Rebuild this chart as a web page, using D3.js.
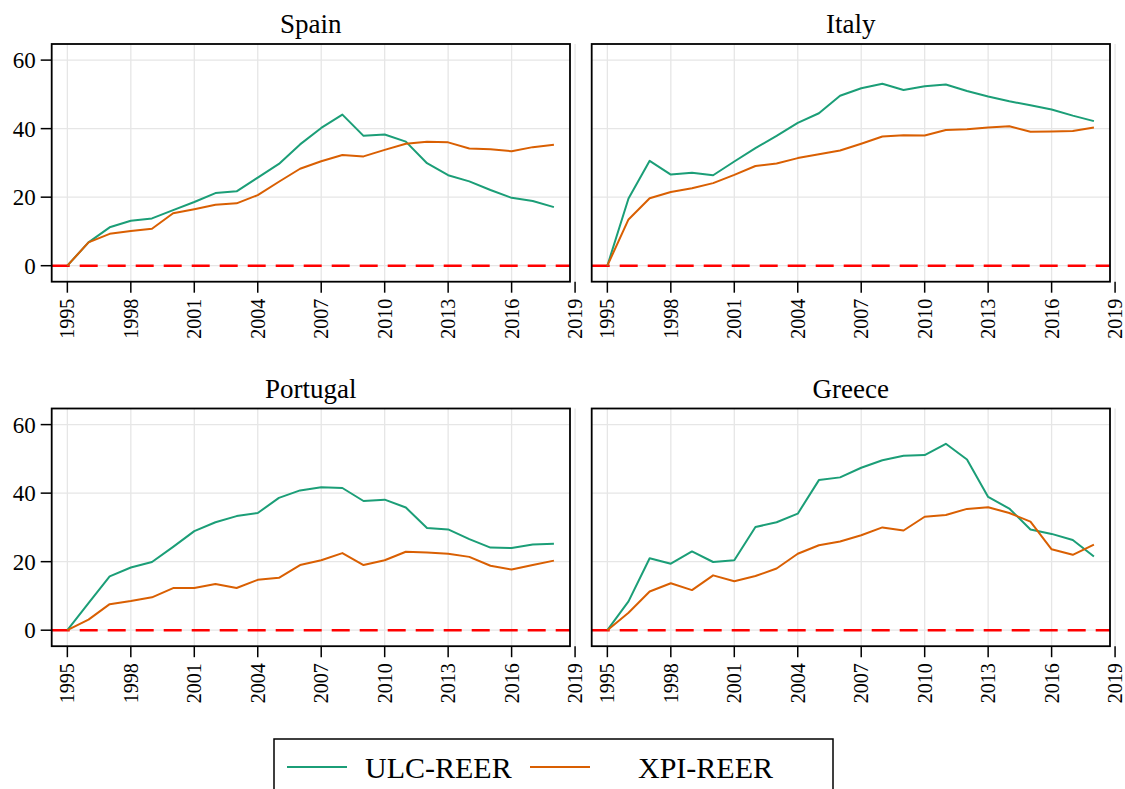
<!DOCTYPE html>
<html>
<head>
<meta charset="utf-8">
<script src="https://cdn.jsdelivr.net/npm/d3@7"></script>
<style>
  html, body { margin: 0; padding: 0; background: #fff; }
  svg { display: block; }
</style>
</head>
<body>
<svg id="chart" width="1125" height="789"></svg>
<script>
const years = d3.range(1995, 2019);
const countries = ["Spain", "Italy", "Portugal", "Greece"];
const xTicks = [1995, 1998, 2001, 2004, 2007, 2010, 2013, 2016, 2019];
const yTicks = [0, 20, 40, 60];
const seriesNames = ["ULC-REER", "XPI-REER"];
const seriesColors = ["#1b9e77", "#d95f02"];

const spainULC = [0, 6.8, 11.2, 13.1, 13.8, 16.2, 18.6, 21.2, 21.7, 25.7, 29.7, 35.4, 40.2, 44.1, 37.9, 38.3, 36.2, 29.9, 26.4, 24.6, 22.1, 19.8, 18.9, 17.1];
const spainXPI = [0, 6.8, 9.3, 10.1, 10.8, 15.3, 16.5, 17.8, 18.2, 20.6, 24.5, 28.3, 30.5, 32.3, 31.9, 33.8, 35.6, 36.2, 36.0, 34.2, 34.0, 33.4, 34.6, 35.3];
const italyULC = [0, 19.6, 30.6, 26.6, 27.1, 26.4, 30.4, 34.3, 37.9, 41.7, 44.5, 49.6, 51.8, 53.1, 51.3, 52.4, 52.9, 51.0, 49.4, 48.0, 46.8, 45.6, 43.8, 42.2];
const italyXPI = [0, 13.5, 19.7, 21.5, 22.6, 24.1, 26.5, 29.1, 29.8, 31.4, 32.5, 33.6, 35.6, 37.7, 38.1, 38.0, 39.6, 39.8, 40.3, 40.7, 39.1, 39.2, 39.3, 40.3];
const portugalULC = [0, 7.9, 15.7, 18.3, 19.9, 24.3, 28.9, 31.5, 33.3, 34.2, 38.6, 40.8, 41.7, 41.5, 37.7, 38.1, 35.8, 29.8, 29.4, 26.6, 24.1, 24.0, 25.0, 25.2];
const portugalXPI = [0, 3.1, 7.6, 8.5, 9.6, 12.3, 12.3, 13.5, 12.3, 14.7, 15.3, 19.0, 20.4, 22.5, 19.0, 20.4, 22.9, 22.7, 22.3, 21.4, 18.8, 17.7, 19.0, 20.3];
const greeceULC = [0, 8.4, 21.0, 19.4, 23.0, 19.9, 20.4, 30.1, 31.5, 34.0, 43.8, 44.6, 47.4, 49.6, 50.9, 51.1, 54.4, 49.8, 38.9, 35.5, 29.4, 28.1, 26.3, 21.5];
const greeceXPI = [0, 5.1, 11.3, 13.7, 11.7, 16.0, 14.3, 15.8, 18.0, 22.3, 24.8, 25.9, 27.7, 30.0, 29.1, 33.1, 33.6, 35.4, 35.9, 34.2, 31.7, 23.6, 22.0, 25.0];

const dataByCountry = {
  "Spain": [spainULC, spainXPI],
  "Italy": [italyULC, italyXPI],
  "Portugal": [portugalULC, portugalXPI],
  "Greece": [greeceULC, greeceXPI]
};

const FONT = "Liberation Serif";
const svg = d3.select("#chart");
const W = 518.3, H = 237.7;
const panelPos = [[51.7, 44], [591.7, 44], [51.7, 408.5], [591.7, 408.5]];

const x = d3.scaleLinear().domain([1994.26, 2018.76]).range([0, W]);
const y = d3.scaleLinear().domain([-4.67, 64.7]).range([H, 0]);

countries.forEach((c, i) => {
  const [px, py] = panelPos[i];
  const g = svg.append("g").attr("transform", `translate(${px},${py})`);

  // gridlines
  g.selectAll(".vg").data(xTicks).enter().append("line")
    .attr("x1", d => x(d)).attr("x2", d => x(d))
    .attr("y1", 0).attr("y2", H)
    .attr("stroke", "#e6e6e6").attr("stroke-width", 1.3);
  g.selectAll(".hg").data(yTicks).enter().append("line")
    .attr("x1", 0).attr("x2", W)
    .attr("y1", d => y(d)).attr("y2", d => y(d))
    .attr("stroke", "#e6e6e6").attr("stroke-width", 1.3);

  // zero reference line
  g.append("line")
    .attr("x1", 0).attr("x2", W)
    .attr("y1", y(0)).attr("y2", y(0))
    .attr("stroke", "#ff0000").attr("stroke-width", 2.4)
    .attr("stroke-dasharray", "18,10");

  // series
  const line = d3.line().x((d, j) => x(years[j])).y(d => y(d));
  dataByCountry[c].forEach((vals, k) => {
    g.append("path").datum(vals)
      .attr("d", line)
      .attr("fill", "none")
      .attr("stroke", seriesColors[k])
      .attr("stroke-width", 2)
      .attr("stroke-linejoin", "round");
  });

  // frame
  g.append("rect").attr("x", 0).attr("y", 0).attr("width", W).attr("height", H)
    .attr("fill", "none").attr("stroke", "#000").attr("stroke-width", 1.8);

  // x axis ticks
  const xa = g.append("g").attr("transform", `translate(0,${H})`);
  xa.selectAll("line").data(xTicks).enter().append("line")
    .attr("x1", d => x(d)).attr("x2", d => x(d))
    .attr("y1", 0).attr("y2", 11)
    .attr("stroke", "#000").attr("stroke-width", 1.5);
  xa.selectAll("text").data(xTicks).enter().append("text")
    .attr("transform", d => `translate(${x(d)},17) rotate(-90)`)
    .attr("text-anchor", "end")
    .attr("dy", "0.35em")
    .attr("font-family", FONT)
    .attr("font-size", 20)
    .text(d => d);

  // y axis (left panels only)
  if (i % 2 === 0) {
    g.selectAll(".yt").data(yTicks).enter().append("line")
      .attr("x1", -11).attr("x2", 0)
      .attr("y1", d => y(d)).attr("y2", d => y(d))
      .attr("stroke", "#000").attr("stroke-width", 1.5);
    g.selectAll(".yl").data(yTicks).enter().append("text")
      .attr("x", -16).attr("y", d => y(d))
      .attr("dy", "0.35em")
      .attr("text-anchor", "end")
      .attr("font-family", FONT)
      .attr("font-size", 23)
      .text(d => d);
  }

  // title
  g.append("text")
    .attr("x", W / 2).attr("y", -11)
    .attr("text-anchor", "middle")
    .attr("font-family", FONT)
    .attr("font-size", 27)
    .text(c);
});

// legend
const lg = svg.append("g");
lg.append("rect").attr("x", 274).attr("y", 739).attr("width", 559).attr("height", 70)
  .attr("fill", "#fff").attr("stroke", "#000").attr("stroke-width", 1.5);
const legendX = [[287, 365], [530, 638]];
seriesNames.forEach((n, k) => {
  lg.append("line")
    .attr("x1", legendX[k][0]).attr("x2", legendX[k][0] + 60)
    .attr("y1", 767).attr("y2", 767)
    .attr("stroke", seriesColors[k]).attr("stroke-width", 2);
  lg.append("text")
    .attr("x", legendX[k][1]).attr("y", 778)
    .attr("font-family", FONT)
    .attr("font-size", 30)
    .text(n);
});
</script>
</body>
</html>
